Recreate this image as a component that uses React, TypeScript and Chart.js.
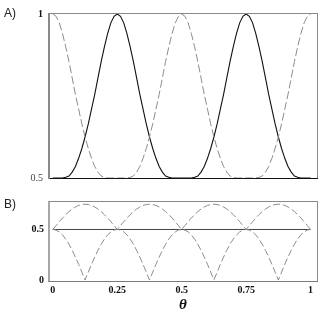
import React, { useEffect, useRef } from "react";
import { Chart, registerables } from "chart.js";

Chart.register(...registerables);

// theta sample positions
const theta = [
  0, 0.0125, 0.025, 0.0375, 0.05, 0.0625, 0.075, 0.0875, 0.1, 0.1125,
  0.125, 0.1375, 0.15, 0.1625, 0.175, 0.1875, 0.2, 0.2125, 0.225, 0.2375,
  0.25, 0.2625, 0.275, 0.2875, 0.3, 0.3125, 0.325, 0.3375, 0.35, 0.3625,
  0.375, 0.3875, 0.4, 0.4125, 0.425, 0.4375, 0.45, 0.4625, 0.475, 0.4875,
  0.5, 0.5125, 0.525, 0.5375, 0.55, 0.5625, 0.575, 0.5875, 0.6, 0.6125,
  0.625, 0.6375, 0.65, 0.6625, 0.675, 0.6875, 0.7, 0.7125, 0.725, 0.7375,
  0.75, 0.7625, 0.775, 0.7875, 0.8, 0.8125, 0.825, 0.8375, 0.85, 0.8625,
  0.875, 0.8875, 0.9, 0.9125, 0.925, 0.9375, 0.95, 0.9625, 0.975, 0.9875,
  1,
];

// Panel A: solid curve (peaks at 0.25 and 0.75)
const solidA = [
  0.5, 0.5, 0.5, 0.5, 0.502, 0.506, 0.518, 0.535, 0.56, 0.59,
  0.625, 0.665, 0.71, 0.755, 0.805, 0.855, 0.9, 0.94, 0.973, 0.993,
  1,
  0.993, 0.973, 0.94, 0.9, 0.855, 0.805, 0.755, 0.71, 0.665,
  0.625, 0.59, 0.56, 0.535, 0.518, 0.506, 0.502, 0.5, 0.5, 0.5,
  0.5,
  0.5, 0.5, 0.5, 0.502, 0.506, 0.518, 0.535, 0.56, 0.59,
  0.625, 0.665, 0.71, 0.755, 0.805, 0.855, 0.9, 0.94, 0.973, 0.993,
  1,
  0.993, 0.973, 0.94, 0.9, 0.855, 0.805, 0.755, 0.71, 0.665,
  0.625, 0.59, 0.56, 0.535, 0.518, 0.506, 0.502, 0.5, 0.5, 0.5,
  0.5,
];

// Panel A: dashed curve (peaks at 0, 0.5 and 1)
const dashedA = [
  1, 0.993, 0.973, 0.94, 0.9, 0.855, 0.805, 0.755, 0.71, 0.665,
  0.625, 0.59, 0.56, 0.535, 0.518, 0.506, 0.502, 0.5, 0.5, 0.5,
  0.5,
  0.5, 0.5, 0.5, 0.502, 0.506, 0.518, 0.535, 0.56, 0.59,
  0.625, 0.665, 0.71, 0.755, 0.805, 0.855, 0.9, 0.94, 0.973, 0.993,
  1,
  0.993, 0.973, 0.94, 0.9, 0.855, 0.805, 0.755, 0.71, 0.665,
  0.625, 0.59, 0.56, 0.535, 0.518, 0.506, 0.502, 0.5, 0.5, 0.5,
  0.5,
  0.5, 0.5, 0.5, 0.502, 0.506, 0.518, 0.535, 0.56, 0.59,
  0.625, 0.665, 0.71, 0.755, 0.805, 0.855, 0.9, 0.94, 0.973, 0.993,
  1,
];

// Panel B: upper dashed curve
const upperB = [
  0.5, 0.539, 0.577, 0.614, 0.647, 0.677, 0.702, 0.723, 0.738, 0.747,
  0.75, 0.747, 0.738, 0.723, 0.702, 0.677, 0.647, 0.614, 0.577, 0.539,
  0.5, 0.539, 0.577, 0.614, 0.647, 0.677, 0.702, 0.723, 0.738, 0.747,
  0.75, 0.747, 0.738, 0.723, 0.702, 0.677, 0.647, 0.614, 0.577, 0.539,
  0.5, 0.539, 0.577, 0.614, 0.647, 0.677, 0.702, 0.723, 0.738, 0.747,
  0.75, 0.747, 0.738, 0.723, 0.702, 0.677, 0.647, 0.614, 0.577, 0.539,
  0.5, 0.539, 0.577, 0.614, 0.647, 0.677, 0.702, 0.723, 0.738, 0.747,
  0.75, 0.747, 0.738, 0.723, 0.702, 0.677, 0.647, 0.614, 0.577, 0.539,
  0.5,
];

// Panel B: lower dashed curve
const lowerB = [
  0.5, 0.494, 0.476, 0.446, 0.405, 0.354, 0.294, 0.227, 0.155, 0.078,
  0, 0.078, 0.155, 0.227, 0.294, 0.354, 0.405, 0.446, 0.476, 0.494,
  0.5, 0.494, 0.476, 0.446, 0.405, 0.354, 0.294, 0.227, 0.155, 0.078,
  0, 0.078, 0.155, 0.227, 0.294, 0.354, 0.405, 0.446, 0.476, 0.494,
  0.5, 0.494, 0.476, 0.446, 0.405, 0.354, 0.294, 0.227, 0.155, 0.078,
  0, 0.078, 0.155, 0.227, 0.294, 0.354, 0.405, 0.446, 0.476, 0.494,
  0.5, 0.494, 0.476, 0.446, 0.405, 0.354, 0.294, 0.227, 0.155, 0.078,
  0, 0.078, 0.155, 0.227, 0.294, 0.354, 0.405, 0.446, 0.476, 0.494,
  0.5,
];

// Panel B: horizontal solid line
const midTheta = [0, 1];
const midB = [0.5, 0.5];

// Tick labels
const yTicksA = [0.5, 1];
const yTicksB = [0, 0.5];
const xTicksB = [0, 0.25, 0.5, 0.75, 1];
const xTitle = "θ";
const panelLabels = ["A)", "B)"];

const pts = (xs: number[], ys: number[]) => xs.map((x, i) => ({ x, y: ys[i] }));

type Side = { color: string; width: number };
function framePlugin(id: string, sides: { left: Side; top: Side; right: Side; bottom: Side }) {
  return {
    id,
    beforeDatasetsDraw(chart: any) {
      const { ctx, chartArea } = chart;
      const { left, right, top, bottom } = chartArea;
      ctx.save();
      const line = (s: Side, x1: number, y1: number, x2: number, y2: number) => {
        ctx.beginPath();
        ctx.strokeStyle = s.color;
        ctx.lineWidth = s.width;
        ctx.moveTo(x1, y1);
        ctx.lineTo(x2, y2);
        ctx.stroke();
      };
      const l = Math.round(left);
      const r = Math.round(right);
      const t = Math.round(top);
      const b = Math.round(bottom);
      line(sides.top, l, t - 0.5, r + 1, t - 0.5);
      line(sides.right, r + 0.5, t - 1, r + 0.5, b + 1);
      line(sides.bottom, l - 1, b + 0.5, r + 1, b + 0.5);
      line(sides.left, l, t - 1, l, b + 1);
      ctx.restore();
    },
  };
}

const tickFont = { family: "'Liberation Serif', serif", size: 10, weight: "bold" as const };
const noGrid = { display: false, drawTicks: false, tickLength: 0 };

export default function App() {
  const refA = useRef<HTMLCanvasElement>(null);
  const refB = useRef<HTMLCanvasElement>(null);

  useEffect(() => {
    const xRange = { min: -0.015, max: 1.025 };
    const chartA = new Chart(refA.current!, {
      type: "line",
      data: {
        datasets: [
          {
            data: pts(theta, dashedA),
            borderColor: "#8c8c8c",
            borderWidth: 1,
            borderDash: [8, 3],
            pointRadius: 0,
            tension: 0,
          },
          {
            data: pts(theta, solidA),
            borderColor: "#111111",
            borderWidth: 1.1,
            pointRadius: 0,
            tension: 0,
          },
        ],
      },
      options: {
        animation: false,
        responsive: false,
        maintainAspectRatio: false,
        events: [],
        layout: { padding: { top: 14, right: 8, bottom: 11, left: 0 } },
        plugins: { legend: { display: false }, tooltip: { enabled: false } },
        scales: {
          x: { type: "linear", ...xRange, display: false },
          y: {
            type: "linear",
            min: 0.5,
            max: 1,
            afterBuildTicks: (s: any) => {
              s.ticks = yTicksA.map((v) => ({ value: v }));
            },
            afterFit: (s: any) => {
              s.width = 49;
            },
            grid: noGrid,
            border: { display: false },
            ticks: {
              padding: 6,
              color: (c: any) => (c.tick && c.tick.value === 1 ? "#111" : "#444"),
              font: (c: any) =>
                c.tick && c.tick.value === 1
                  ? tickFont
                  : { family: "'Liberation Serif', serif", size: 10, weight: "normal" },
              callback: (v: any) => String(v),
            },
          },
        },
      },
      plugins: [
        framePlugin("frameA", {
          left: { color: "#8a8a8a", width: 2 },
          top: { color: "#8a8a8a", width: 1 },
          right: { color: "#8a8a8a", width: 1 },
          bottom: { color: "#111111", width: 1 },
        }),
      ],
    } as any);

    const chartB = new Chart(refB.current!, {
      type: "line",
      data: {
        datasets: [
          {
            data: pts(theta, upperB),
            borderColor: "#8c8c8c",
            borderWidth: 1,
            borderDash: [7, 3],
            pointRadius: 0,
            tension: 0,
          },
          {
            data: pts(theta, lowerB),
            borderColor: "#8c8c8c",
            borderWidth: 1,
            borderDash: [7, 3],
            pointRadius: 0,
            tension: 0,
          },
          {
            data: pts(midTheta, midB),
            borderColor: "#444444",
            borderWidth: 1,
            pointRadius: 0,
            tension: 0,
          },
        ],
      },
      options: {
        animation: false,
        responsive: false,
        maintainAspectRatio: false,
        events: [],
        layout: { padding: { top: 12, right: 8, bottom: 0, left: 0 } },
        plugins: { legend: { display: false }, tooltip: { enabled: false } },
        scales: {
          x: {
            type: "linear",
            ...xRange,
            afterBuildTicks: (s: any) => {
              s.ticks = xTicksB.map((v) => ({ value: v }));
            },
            afterFit: (s: any) => {
              s.height = 32.5;
            },
            grid: noGrid,
            border: { display: false },
            ticks: {
              padding: 4,
              maxRotation: 0,
              autoSkip: false,
              color: "#111",
              font: tickFont,
              callback: (v: any) => String(v),
            },
            title: {
              display: true,
              text: xTitle,
              color: "#111",
              padding: { top: 0, bottom: 0 },
              font: {
                family: "'Liberation Serif', serif",
                size: 15,
                weight: "bold",
                style: "italic",
                lineHeight: 1.0,
              },
            },
          },
          y: {
            type: "linear",
            min: -0.005,
            max: 0.772,
            afterBuildTicks: (s: any) => {
              s.ticks = yTicksB.map((v) => ({ value: v }));
            },
            afterFit: (s: any) => {
              s.width = 49;
            },
            grid: noGrid,
            border: { display: false },
            ticks: {
              padding: 5,
              color: "#111",
              font: tickFont,
              callback: (v: any) => String(v),
            },
          },
        },
      },
      plugins: [
        framePlugin("frameB", {
          left: { color: "#8a8a8a", width: 1.5 },
          top: { color: "#8a8a8a", width: 1 },
          right: { color: "#8a8a8a", width: 1 },
          bottom: { color: "#7a7a7a", width: 1 },
        }),
      ],
    } as any);

    return () => {
      chartA.destroy();
      chartB.destroy();
    };
  }, []);

  const labelStyle: React.CSSProperties = {
    position: "absolute",
    left: 4,
    fontFamily: "'Liberation Sans', Arial, sans-serif",
    fontSize: 12,
    lineHeight: "12px",
    color: "#222",
  };

  return (
    <div style={{ position: "absolute", left: 0, top: 0, width: 325, height: 313, background: "#fff" }}>
      <canvas ref={refA} width={325} height={190} style={{ position: "absolute", left: 0, top: 0, display: "block" }} />
      <canvas ref={refB} width={325} height={123} style={{ position: "absolute", left: 0, top: 190, display: "block" }} />
      <div style={{ ...labelStyle, top: 7 }}>{panelLabels[0]}</div>
      <div style={{ ...labelStyle, top: 198 }}>{panelLabels[1]}</div>
    </div>
  );
}
